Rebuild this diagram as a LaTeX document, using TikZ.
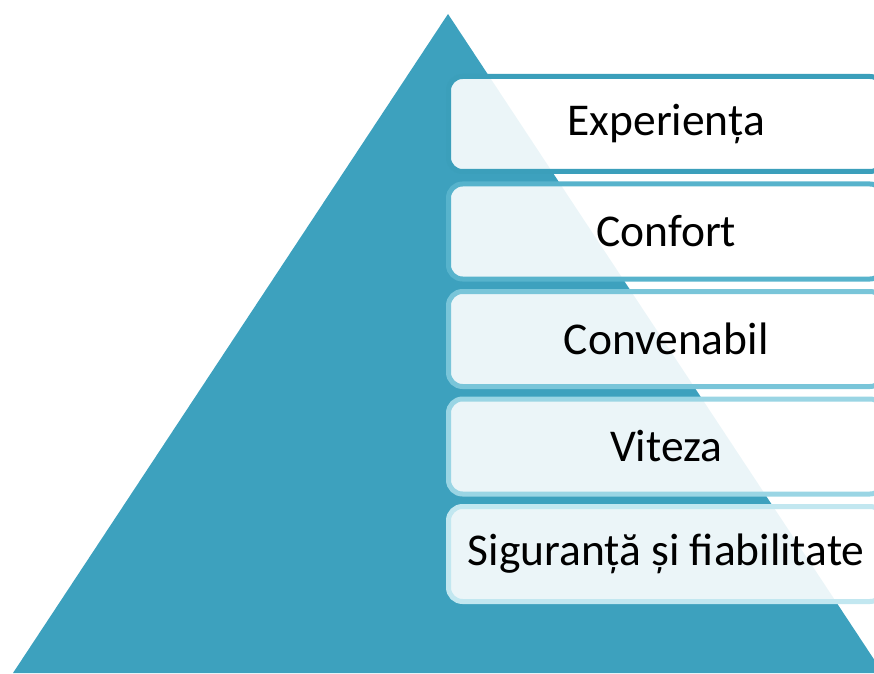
\documentclass[tikz,border=0pt]{standalone}
\usepackage{fontspec}
\setmainfont{Carlito}
\definecolor{tri}{HTML}{3DA1BE}
\definecolor{cA}{HTML}{3B9FBB}
\definecolor{cB}{HTML}{57B3CC}
\definecolor{cC}{HTML}{79C5D9}
\definecolor{cD}{HTML}{9AD5E4}
\definecolor{cE}{HTML}{C2E7F0}
\tikzset{
  levelbox/.style={rectangle, rounded corners=14pt, line width=5pt,
    fill=white, fill opacity=0.9, text opacity=1, draw opacity=1,
    minimum width=435.5pt, minimum height=95pt, inner sep=0pt,
    font=\fontsize{45.5}{54}\selectfont, text=black}
}
\begin{document}
\begin{tikzpicture}[x=1pt,y=1pt]
\useasboundingbox (0,0) rectangle (874,673);
\clip (0,0) rectangle (874,673);
\fill[tri] (448,659) -- (13,0) -- (883,0) -- cycle;
\node[levelbox, draw=cA] (b1) at (666.25,549) {Experiența};
\node[levelbox, draw=cB] (b2) at (666.25,441.5) {Confort};
\node[levelbox, draw=cC] (b3) at (666.25,334) {Convenabil};
\node[levelbox, draw=cD] (b4) at (666.25,226.5) {Viteza};
\node[levelbox, draw=cE] (b5) at (666.25,119) {Siguranță și fiabilitate};
\end{tikzpicture}
\end{document}
